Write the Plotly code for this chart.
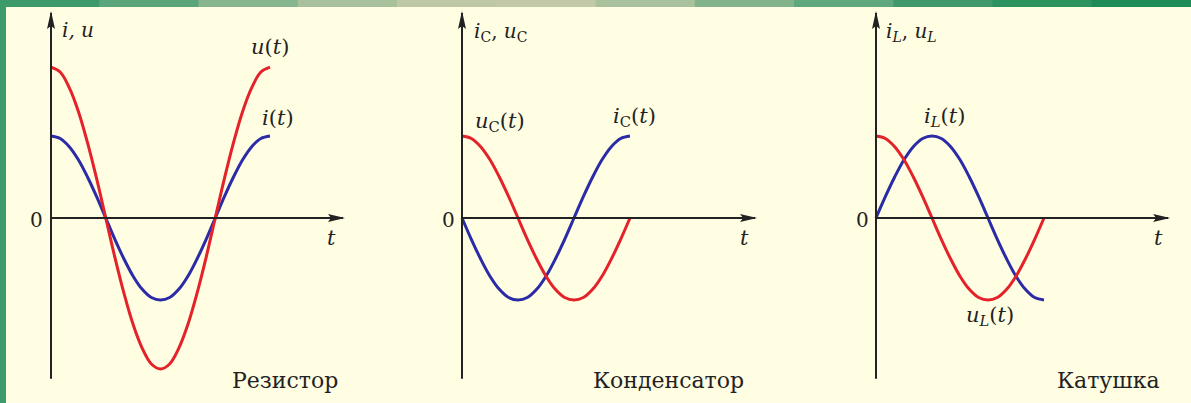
import plotly.graph_objects as go

# время в 1/24 периода (шаг 15°)
t_res = list(range(25))
u_res = [1.84, 1.78, 1.59, 1.30, 0.92, 0.48, 0, -0.48, -0.92, -1.30, -1.59, -1.78, -1.84,
         -1.78, -1.59, -1.30, -0.92, -0.48, 0, 0.48, 0.92, 1.30, 1.59, 1.78, 1.84]
i_res = [1.0, 0.97, 0.87, 0.71, 0.5, 0.26, 0, -0.26, -0.5, -0.71, -0.87, -0.97, -1.0,
         -0.97, -0.87, -0.71, -0.5, -0.26, 0, 0.26, 0.5, 0.71, 0.87, 0.97, 1.0]

t_cap = list(range(19))
u_cap = [1.0, 0.97, 0.87, 0.71, 0.5, 0.26, 0, -0.26, -0.5, -0.71, -0.87, -0.97, -1.0,
         -0.97, -0.87, -0.71, -0.5, -0.26, 0]
i_cap = [0, -0.26, -0.5, -0.71, -0.87, -0.97, -1.0, -0.97, -0.87, -0.71, -0.5, -0.26, 0,
         0.26, 0.5, 0.71, 0.87, 0.97, 1.0]

t_ind = list(range(19))
u_ind = [1.0, 0.97, 0.87, 0.71, 0.5, 0.26, 0, -0.26, -0.5, -0.71, -0.87, -0.97, -1.0,
         -0.97, -0.87, -0.71, -0.5, -0.26, 0]
i_ind = [0, 0.26, 0.5, 0.71, 0.87, 0.97, 1.0, 0.97, 0.87, 0.71, 0.5, 0.26, 0,
         -0.26, -0.5, -0.71, -0.87, -0.97, -1.0]

captions = ['Резистор', 'Конденсатор', 'Катушка']

W, H = 1191, 403
RED = '#e3222a'
BLUE = '#2b2ba8'
AXIS = '#222222'
BG = '#fffde2'


def px(x):
    return x / W


def py(y):
    return 1 - y / H


fig = go.Figure()

panels = [
    ('x', t_res, u_res, i_res),
    ('x2', t_cap, u_cap, i_cap),
    ('x3', t_ind, u_ind, i_ind),
]
for xa, t, u, i in panels:
    fig.add_trace(go.Scatter(x=t, y=i, xaxis=xa, yaxis='y', mode='lines',
                             line=dict(color=BLUE, width=3, shape='spline'),
                             hoverinfo='skip'))
    fig.add_trace(go.Scatter(x=t, y=u, xaxis=xa, yaxis='y', mode='lines',
                             line=dict(color=RED, width=3, shape='spline'),
                             hoverinfo='skip'))

# оси: (домен, начало координат в px, px на единицу, конец стрелки t)
axes = [
    ('x', (0, 400), 51, 9.125, 32.0),
    ('x2', (400, 800), 462, 9.333, 31.4),
    ('x3', (800, W), 876, 9.333, 31.3),
]
Y_TOP, Y_BOT = 2.5, -1.96
shapes = []
layout_axes = {}
for xa, (d0, d1), org, k, tip in axes:
    key = 'xaxis' if xa == 'x' else 'xaxis' + xa[1:]
    layout_axes[key] = dict(domain=[px(d0), px(d1)],
                            range=[-(org - d0) / k, (d1 - org) / k],
                            visible=False, anchor='y')
    line = dict(color=AXIS, width=2)
    shapes.append(dict(type='line', xref=xa, yref='y', x0=0, x1=tip, y0=0, y1=0,
                       line=line, layer='above'))
    shapes.append(dict(type='line', xref=xa, yref='y', x0=0, x1=0, y0=Y_BOT, y1=Y_TOP,
                       line=line, layer='above'))
    # наконечники стрелок
    shapes.append(dict(type='path', xref=xa, yref='y', xsizemode='pixel', ysizemode='pixel',
                       xanchor=tip, yanchor=0, path='M 2 0 L -15 4 L -12 0 L -15 -4 Z',
                       fillcolor=AXIS, line=dict(width=0), layer='above'))
    shapes.append(dict(type='path', xref=xa, yref='y', xsizemode='pixel', ysizemode='pixel',
                       xanchor=0, yanchor=Y_TOP, path='M 0 2 L 4 -16 L 0 -13 L -4 -16 Z',
                       fillcolor=AXIS, line=dict(width=0), layer='above'))

ann = []
serif = 'DejaVu Serif'
lab = dict(family=serif, size=21, color='#222222')
small = dict(family=serif, size=20, color='#222222')


def text(x, y, s, font, xanchor='center'):
    ann.append(dict(x=px(x), y=py(y), xref='paper', yref='paper', text=s,
                    showarrow=False, font=font, xanchor=xanchor, yanchor='middle'))


# панель 1
text(60, 30, '<i>i, u</i>', small, 'left')
text(270, 47, '<i>u</i>(<i>t</i>)', lab)
text(278, 118, '<i>i</i>(<i>t</i>)', lab)
# панель 2
text(472, 32, '<i>i</i><sub>C</sub>, <i>u</i><sub>C</sub>', small, 'left')
text(500, 122, '<i>u</i><sub>C</sub>(<i>t</i>)', lab)
text(634, 117, '<i>i</i><sub>C</sub>(<i>t</i>)', lab)
# панель 3
text(884, 32, '<i>i<sub>L</sub></i>, <i>u<sub>L</sub></i>', small, 'left')
text(944, 117, '<i>i<sub>L</sub></i>(<i>t</i>)', lab)
text(990, 316, '<i>u<sub>L</sub></i>(<i>t</i>)', lab)

for x0, xt in [(36, 332), (448, 744), (862, 1158)]:
    text(x0, 220, '0', dict(family=serif, size=20, color='#222222'))
    text(xt, 238, '<i>t</i>', lab)

cap_font = dict(family=serif, size=22, color='#222222')
for xc, s in zip([285, 668, 1108], captions):
    text(xc, 380, s, cap_font)

# зелёная рамка сверху и слева
greens = ['#3d9b6b', '#5aa57a', '#86b58e', '#a8c09c', '#bfc8a6', '#c3c9a8',
          '#a9c19d', '#82b38b', '#5fa77d', '#41996b', '#2c925e', '#1f8b56']
seg = W / len(greens)
for n, c in enumerate(greens):
    shapes.append(dict(type='rect', xref='paper', yref='paper', x0=px(n * seg),
                       x1=px((n + 1) * seg + 1), y0=py(7), y1=1,
                       fillcolor=c, line=dict(width=0), layer='above'))
shapes.append(dict(type='rect', xref='paper', yref='paper', x0=0, x1=px(6), y0=0, y1=1,
                   fillcolor='#3d9b6b', line=dict(width=0), layer='above'))

fig.update_layout(
    width=W, height=H,
    margin=dict(l=0, r=0, t=0, b=0),
    paper_bgcolor=BG, plot_bgcolor=BG,
    showlegend=False,
    yaxis=dict(range=[(218 - H) / 82, 218 / 82], visible=False, domain=[0, 1]),
    annotations=ann,
    shapes=shapes,
    **layout_axes,
)

fig.write_html("out.html", config={'displayModeBar': False},
               post_script="document.body.style.margin='0';")
